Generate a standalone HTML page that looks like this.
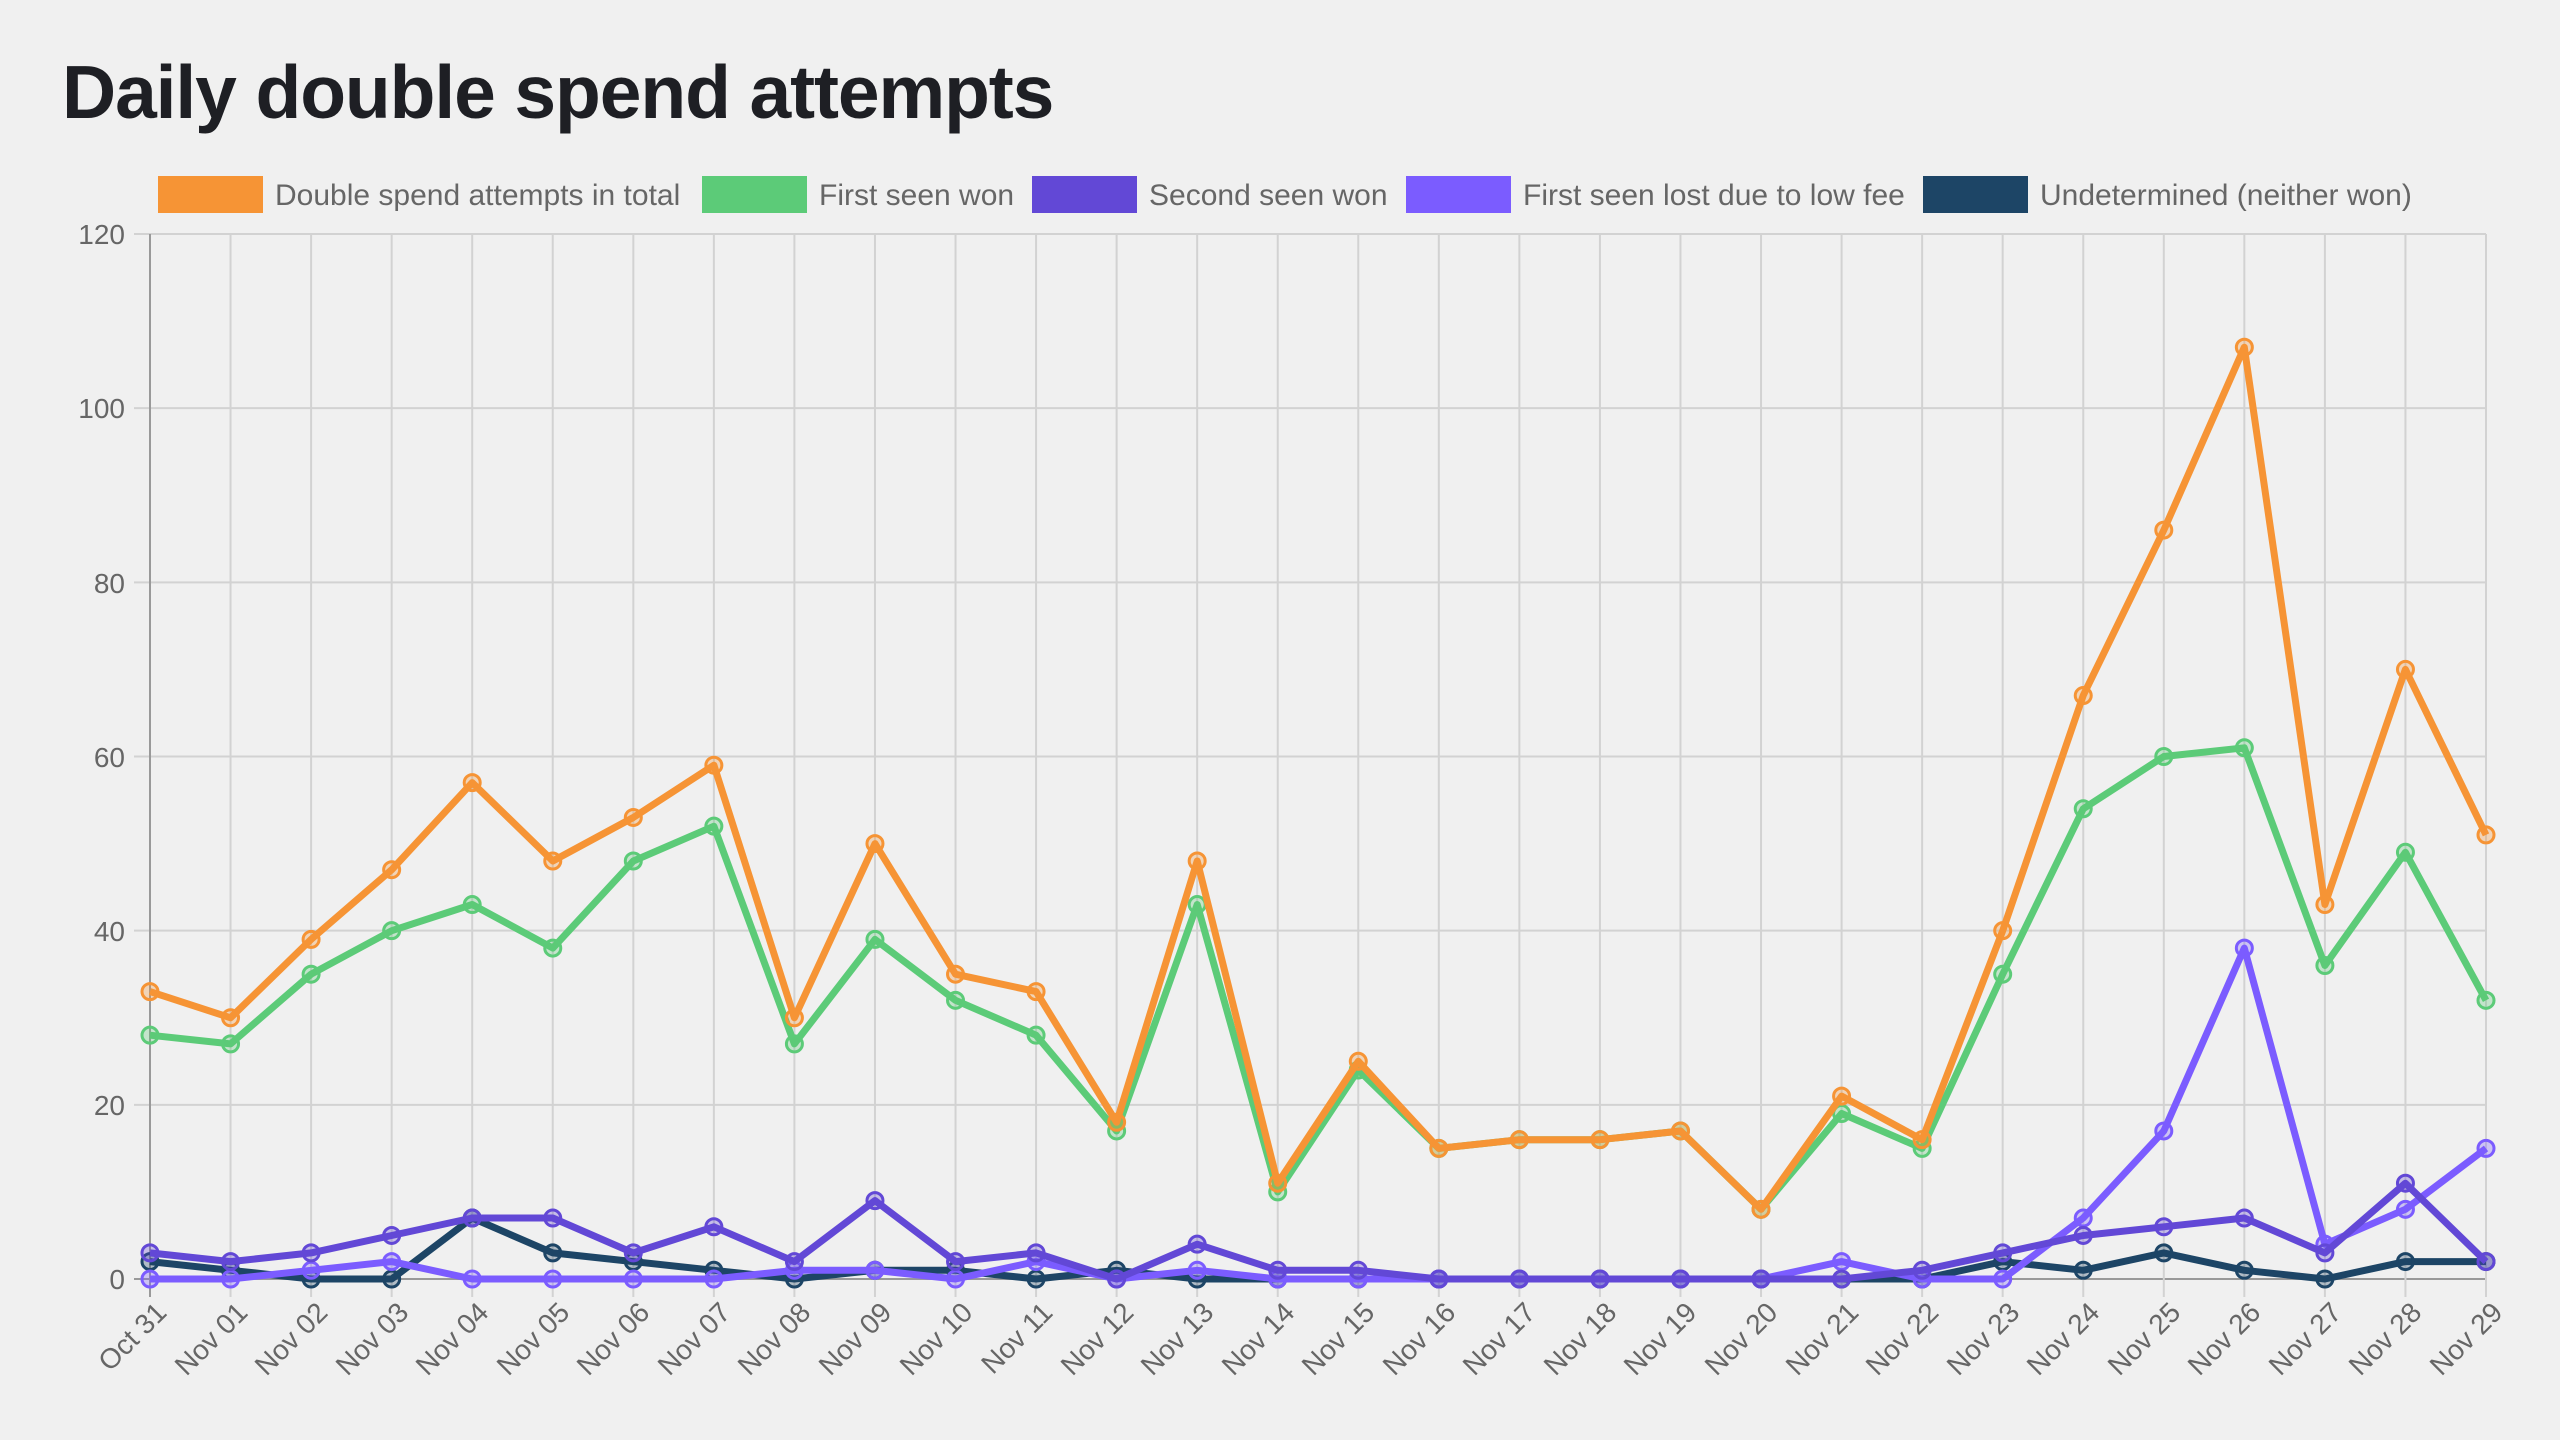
<!DOCTYPE html>
<html><head><meta charset="utf-8"><style>
html,body{margin:0;padding:0;background:#f0f0f0;width:2560px;height:1440px;overflow:hidden;font-family:"Liberation Sans",sans-serif;}
</style></head><body>
<svg width="2560" height="1440" xmlns="http://www.w3.org/2000/svg" style="position:absolute;left:0;top:0">
<text x="62" y="118" font-size="75" font-weight="bold" fill="#1e1f24" font-family="Liberation Sans, sans-serif" letter-spacing="-1.1">Daily double spend attempts</text>
<g font-size="30" fill="#666" font-family="Liberation Sans, sans-serif">
<rect x="158" y="176" width="105" height="37" fill="#f69435"/><text x="275" y="205">Double spend attempts in total</text>
<rect x="702" y="176" width="105" height="37" fill="#5ccb78"/><text x="819" y="205">First seen won</text>
<rect x="1032" y="176" width="105" height="37" fill="#6248d6"/><text x="1149" y="205">Second seen won</text>
<rect x="1406" y="176" width="105" height="37" fill="#7b5cff"/><text x="1523" y="205">First seen lost due to low fee</text>
<rect x="1923" y="176" width="105" height="37" fill="#1d4566"/><text x="2040" y="205">Undetermined (neither won)</text>
</g>
<g id="grid"></g>
<g font-size="28" fill="#666" text-anchor="end" font-family="Liberation Sans, sans-serif">
<text x="125" y="244">120</text><text x="125" y="418">100</text><text x="125" y="593">80</text><text x="125" y="767">60</text><text x="125" y="941">40</text><text x="125" y="1115">20</text><text x="125" y="1289">0</text>
</g>
<g font-size="28" fill="#666" text-anchor="end" dominant-baseline="hanging" font-family="Liberation Sans, sans-serif">
<text transform="translate(154,1300) rotate(-45)">Oct 31</text>
<text transform="translate(235,1300) rotate(-45)">Nov 01</text>
<text transform="translate(315,1300) rotate(-45)">Nov 02</text>
<text transform="translate(396,1300) rotate(-45)">Nov 03</text>
<text transform="translate(476,1300) rotate(-45)">Nov 04</text>
<text transform="translate(557,1300) rotate(-45)">Nov 05</text>
<text transform="translate(637,1300) rotate(-45)">Nov 06</text>
<text transform="translate(718,1300) rotate(-45)">Nov 07</text>
<text transform="translate(798,1300) rotate(-45)">Nov 08</text>
<text transform="translate(879,1300) rotate(-45)">Nov 09</text>
<text transform="translate(960,1300) rotate(-45)">Nov 10</text>
<text transform="translate(1040,1300) rotate(-45)">Nov 11</text>
<text transform="translate(1121,1300) rotate(-45)">Nov 12</text>
<text transform="translate(1201,1300) rotate(-45)">Nov 13</text>
<text transform="translate(1282,1300) rotate(-45)">Nov 14</text>
<text transform="translate(1362,1300) rotate(-45)">Nov 15</text>
<text transform="translate(1443,1300) rotate(-45)">Nov 16</text>
<text transform="translate(1523,1300) rotate(-45)">Nov 17</text>
<text transform="translate(1604,1300) rotate(-45)">Nov 18</text>
<text transform="translate(1684,1300) rotate(-45)">Nov 19</text>
<text transform="translate(1765,1300) rotate(-45)">Nov 20</text>
<text transform="translate(1846,1300) rotate(-45)">Nov 21</text>
<text transform="translate(1926,1300) rotate(-45)">Nov 22</text>
<text transform="translate(2007,1300) rotate(-45)">Nov 23</text>
<text transform="translate(2087,1300) rotate(-45)">Nov 24</text>
<text transform="translate(2168,1300) rotate(-45)">Nov 25</text>
<text transform="translate(2248,1300) rotate(-45)">Nov 26</text>
<text transform="translate(2329,1300) rotate(-45)">Nov 27</text>
<text transform="translate(2409,1300) rotate(-45)">Nov 28</text>
<text transform="translate(2490,1300) rotate(-45)">Nov 29</text>
</g>
<g id="series"></g>
</svg>
<script>
var NS="http://www.w3.org/2000/svg";
var L=150,R=2486,T=234,B=1279,dx=(R-L)/29,dy=(B-T)/120;
function X(i){return L+i*dx;}function Y(v){return B-v*dy;}
var g=document.getElementById('grid'),s=document.getElementById('series');
function el(p,t,a){var e=document.createElementNS(NS,t);for(var k in a)e.setAttribute(k,a[k]);p.appendChild(e);return e;}
for(var v=0;v<=120;v+=20){el(g,'line',{x1:134,x2:R,y1:Y(v),y2:Y(v),stroke:v==0?'#999':'#d2d2d2','stroke-width':2});}
for(var i=0;i<30;i++){el(g,'line',{x1:X(i),x2:X(i),y1:T,y2:1297,stroke:i==0?'#999':'#d2d2d2','stroke-width':2});}
var D=[
["#f69435",[33,30,39,47,57,48,53,59,30,50,35,33,18,48,11,25,15,16,16,17,8,21,16,40,67,86,107,43,70,51]],
["#5ccb78",[28,27,35,40,43,38,48,52,27,39,32,28,17,43,10,24,15,16,16,17,8,19,15,35,54,60,61,36,49,32]],
["#6248d6",[3,2,3,5,7,7,3,6,2,9,2,3,0,4,1,1,0,0,0,0,0,0,1,3,5,6,7,3,11,2]],
["#7b5cff",[0,0,1,2,0,0,0,0,1,1,0,2,0,1,0,0,0,0,0,0,0,2,0,0,7,17,38,4,8,15]],
["#1d4566",[2,1,0,0,7,3,2,1,0,1,1,0,1,0,0,0,0,0,0,0,0,0,0,2,1,3,1,0,2,2]]];
for(var d=D.length-1;d>=0;d--){var c=D[d][0],a=D[d][1],pts=[];
for(var i=0;i<30;i++)pts.push(X(i).toFixed(1)+','+Y(a[i]).toFixed(1));
el(s,'polyline',{points:pts.join(' '),fill:'none',stroke:c,'stroke-width':7,'stroke-linejoin':'round'});
for(var i=0;i<30;i++)el(s,'circle',{cx:X(i),cy:Y(a[i]),r:8,fill:c,'fill-opacity':0.3,stroke:c,'stroke-width':3});}
</script>
</body></html>
